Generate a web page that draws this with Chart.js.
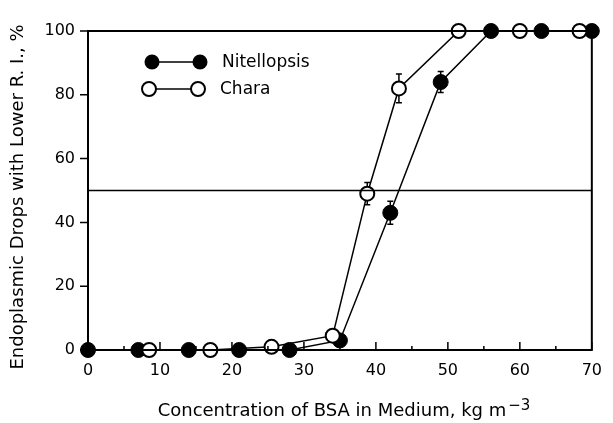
<!DOCTYPE html>
<html>
<head>
<meta charset="utf-8">
<script src="https://cdn.jsdelivr.net/npm/chart.js"></script>
<style>
  html, body { margin: 0; padding: 0; background: #fff; }
  #wrap { width: 613px; height: 423px; }
</style>
</head>
<body>
<div id="wrap"><canvas id="chart" width="613" height="423"></canvas></div>
<script>
// values
const nitX = [0, 7, 14, 21, 28, 35, 42, 49, 56, 63, 70];
const nitY = [0, 0, 0, 0, 0, 3, 43, 84, 100, 100, 100];
const nitErr = [0, 0, 0, 0, 0, 0, 3.6, 3.3, 0, 0, 0];

const charaX = [8.5, 17, 25.5, 34, 38.8, 43.2, 51.5, 60, 68.3];
const charaY = [0, 0, 1, 4.5, 49, 82, 100, 100, 100];
const charaErr = [0, 0, 0, 0, 3.5, 4.5, 0, 0, 0];

const refX = [0, 70];
const refY = [50, 50];

const xTicks = [0, 10, 20, 30, 40, 50, 60, 70];
const xMinor = [5, 15, 25, 35, 45, 55, 65];
const yTicks = [0, 20, 40, 60, 80, 100];

const FONT = "'DejaVu Sans', sans-serif";

const toPoints = (xs, ys) => xs.map((x, i) => ({ x: x, y: ys[i] }));

// error bars, frame, inward x ticks, legend, titles
const decorations = {
  id: "decorations",
  beforeDatasetsDraw(chart) {
    const ctx = chart.ctx;
    const xs = chart.scales.x, ys = chart.scales.y;
    const bars = [[nitX, nitY, nitErr], [charaX, charaY, charaErr]];
    ctx.save();
    ctx.strokeStyle = "#000";
    ctx.lineWidth = 1.5;
    bars.forEach(([X, Y, E]) => {
      X.forEach((x, i) => {
        if (!E[i]) return;
        const px = xs.getPixelForValue(x);
        const top = ys.getPixelForValue(Y[i] + E[i]);
        const bot = ys.getPixelForValue(Y[i] - E[i]);
        ctx.beginPath();
        ctx.moveTo(px, top); ctx.lineTo(px, bot);
        ctx.moveTo(px - 3, top); ctx.lineTo(px + 3, top);
        ctx.moveTo(px - 3, bot); ctx.lineTo(px + 3, bot);
        ctx.stroke();
      });
    });
    ctx.restore();
  },
  afterDraw(chart) {
    const ctx = chart.ctx;
    const a = chart.chartArea;
    const xs = chart.scales.x, ys = chart.scales.y;
    ctx.save();
    ctx.strokeStyle = "#000";
    ctx.fillStyle = "#000";
    ctx.lineWidth = 2;
    ctx.strokeRect(a.left, a.top, a.right - a.left, a.bottom - a.top);

    // x ticks point inward
    ctx.lineWidth = 1.5;
    ctx.beginPath();
    xTicks.forEach(v => {
      const px = xs.getPixelForValue(v);
      ctx.moveTo(px, a.bottom); ctx.lineTo(px, a.bottom - 8);
    });
    xMinor.forEach(v => {
      const px = xs.getPixelForValue(v);
      ctx.moveTo(px, a.bottom); ctx.lineTo(px, a.bottom - 4);
    });
    // y ticks point outward
    yTicks.forEach(v => {
      const py = ys.getPixelForValue(v);
      ctx.moveTo(a.left, py); ctx.lineTo(a.left - 8, py);
    });
    ctx.stroke();

    // legend
    ctx.font = "17px " + FONT;
    ctx.textBaseline = "middle";
    ctx.textAlign = "left";
    const rows = [
      { y: 62, x1: 152, x2: 200, tx: 222, label: "Nitellopsis", filled: true },
      { y: 89, x1: 149, x2: 198, tx: 220, label: "Chara", filled: false }
    ];
    rows.forEach(r => {
      ctx.lineWidth = 1.5;
      ctx.beginPath();
      ctx.moveTo(r.x1, r.y); ctx.lineTo(r.x2, r.y);
      ctx.stroke();
      [r.x1, r.x2].forEach(cx => {
        ctx.beginPath();
        ctx.arc(cx, r.y, r.filled ? 7.5 : 7, 0, Math.PI * 2);
        if (r.filled) { ctx.fill(); }
        else { ctx.fillStyle = "#fff"; ctx.fill(); ctx.fillStyle = "#000"; ctx.lineWidth = 2; ctx.stroke(); }
      });
      ctx.fillText(r.label, r.tx, r.y + 1);
    });

    // x title with superscript
    ctx.font = "18px " + FONT;
    const main = "Concentration of BSA in Medium, kg m";
    const sup = "\u22123";
    const wMain = ctx.measureText(main).width;
    ctx.font = "15px " + FONT;
    const wSup = ctx.measureText(sup).width;
    const startX = 344 - (wMain + wSup + 2) / 2;
    ctx.font = "18px " + FONT;
    ctx.textBaseline = "alphabetic";
    ctx.fillText(main, startX, 416);
    ctx.font = "15px " + FONT;
    ctx.fillText(sup, startX + wMain + 2, 410);

    // y title
    ctx.translate(18, 197);
    ctx.rotate(-Math.PI / 2);
    ctx.font = "18px " + FONT;
    ctx.textAlign = "center";
    ctx.textBaseline = "middle";
    ctx.fillText("Endoplasmic Drops with Lower R. I., %", 0, 0);
    ctx.restore();
  }
};

new Chart(document.getElementById("chart"), {
  type: "line",
  data: {
    datasets: [
      {
        label: "ref",
        data: toPoints(refX, refY),
        borderColor: "#000",
        borderWidth: 1.5,
        pointRadius: 0
      },
      {
        label: "Chara",
        data: toPoints(charaX, charaY),
        borderColor: "#000",
        borderWidth: 1.5,
        pointRadius: 7,
        pointBorderWidth: 2,
        pointBackgroundColor: "#fff",
        pointBorderColor: "#000",
        clip: false
      },
      {
        label: "Nitellopsis",
        data: toPoints(nitX, nitY),
        borderColor: "#000",
        borderWidth: 1.5,
        pointRadius: 7.5,
        pointBorderWidth: 1,
        pointBackgroundColor: "#000",
        pointBorderColor: "#000",
        clip: false
      }
    ]
  },
  options: {
    responsive: false,
    animation: false,
    layout: { padding: { left: 0, right: 21, top: 31, bottom: 0 } },
    plugins: {
      legend: { display: false },
      tooltip: { enabled: false }
    },
    scales: {
      x: {
        type: "linear",
        min: 0,
        max: 70,
        afterFit: (s) => { s.height = 73; },
        afterBuildTicks: (s) => { s.ticks = xTicks.map(v => ({ value: v })); },
        grid: { display: false, drawTicks: false },
        border: { display: false },
        ticks: { color: "#000", padding: 11, maxRotation: 0, font: { family: FONT, size: 16 } }
      },
      y: {
        type: "linear",
        min: 0,
        max: 100,
        afterFit: (s) => { s.width = 88; },
        afterBuildTicks: (s) => { s.ticks = yTicks.map(v => ({ value: v })); },
        grid: { display: false, drawTicks: false },
        border: { display: false },
        ticks: { color: "#000", padding: 13, font: { family: FONT, size: 16 } }
      }
    }
  },
  plugins: [decorations]
});
</script>
</body>
</html>
